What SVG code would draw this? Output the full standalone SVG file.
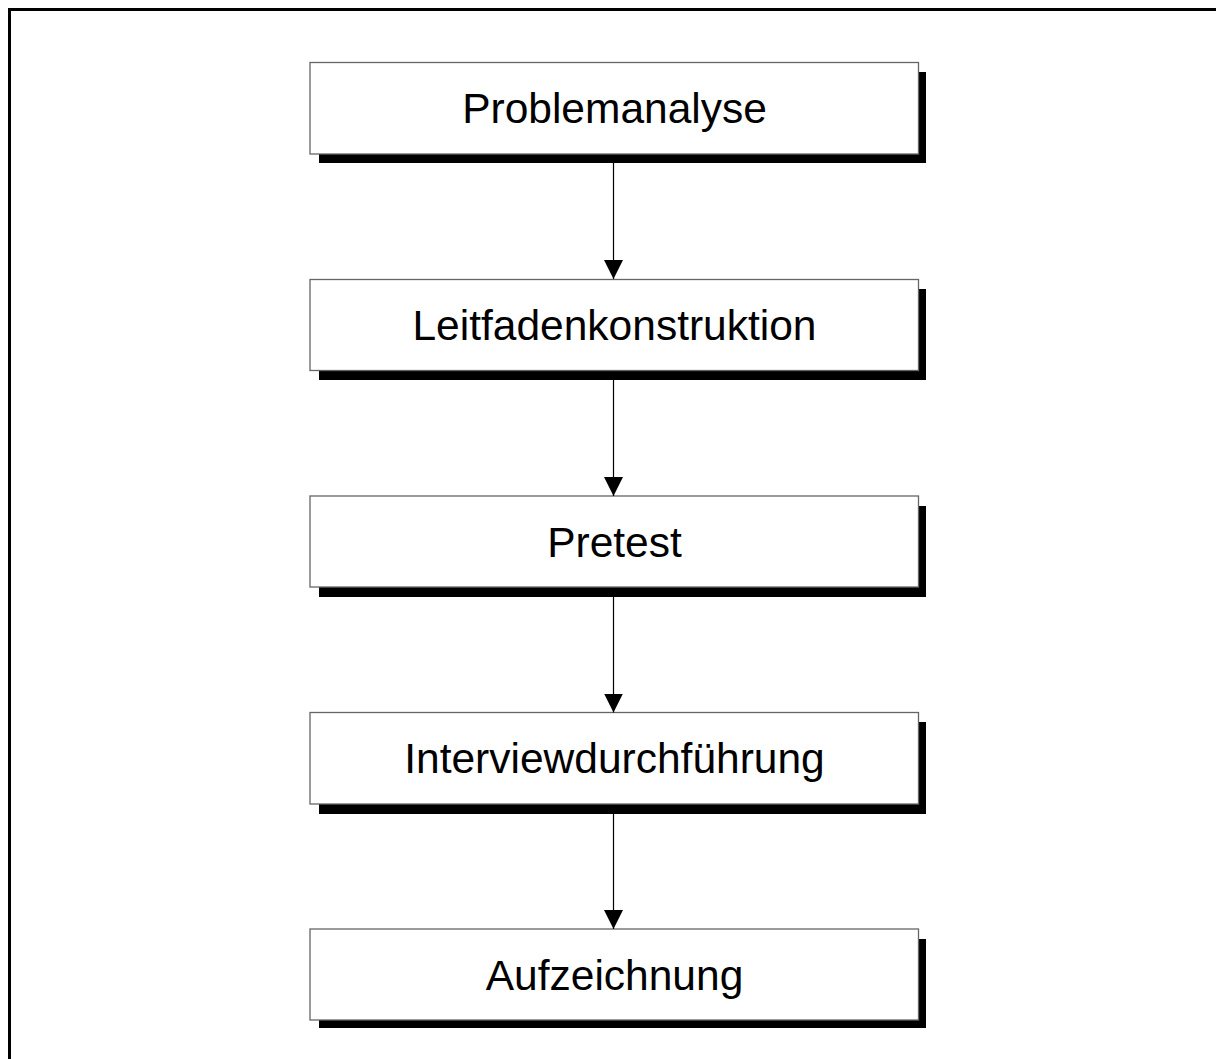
<svg xmlns="http://www.w3.org/2000/svg" width="1216" height="1059" viewBox="0 0 1216 1059">
<defs>
<style>
.shadow{fill:#000}
.box{fill:#fff;stroke:#666;stroke-width:1.3}
.lbl{font-family:"Liberation Sans",Arial,sans-serif;font-size:42.5px;fill:#000;text-anchor:middle}
.edge{stroke:#000;stroke-width:1.2;fill:none}
</style>
<marker id="ah" markerWidth="19" markerHeight="19" refX="19" refY="9.5" orient="auto" markerUnits="userSpaceOnUse">
<path d="M0,0 L19,9.5 L0,19 Z" fill="#000"/>
</marker>
</defs>
<rect width="1216" height="1059" fill="#fff"/>
<path d="M9.5,1059 V9.5 H1216" fill="none" stroke="#000" stroke-width="3"/>
<g id="n1">
<rect class="shadow" x="319" y="72" width="607" height="91"/>
<rect class="box" x="310" y="62.5" width="608.5" height="91.5"/>
<text class="lbl" x="614.5" y="122.5">Problemanalyse</text>
</g>
<g id="n2">
<rect class="shadow" x="319" y="289" width="607" height="91"/>
<rect class="box" x="310" y="279.5" width="608.5" height="91"/>
<text class="lbl" x="614.5" y="339.5">Leitfadenkonstruktion</text>
</g>
<g id="n3">
<rect class="shadow" x="319" y="506" width="607" height="91"/>
<rect class="box" x="310" y="496" width="608.5" height="91"/>
<text class="lbl" x="614.5" y="556.5">Pretest</text>
</g>
<g id="n4">
<rect class="shadow" x="319" y="722" width="607" height="92"/>
<rect class="box" x="310" y="712.5" width="608.5" height="91.5"/>
<text class="lbl" x="614.5" y="772.5">Interviewdurchführung</text>
</g>
<g id="n5">
<rect class="shadow" x="319" y="939" width="607" height="89"/>
<rect class="box" x="310" y="929" width="608.5" height="91"/>
<text class="lbl" x="614.5" y="989.5">Aufzeichnung</text>
</g>
<g id="edges">
<line class="edge" x1="613.5" y1="163" x2="613.5" y2="279" marker-end="url(#ah)"/>
<line class="edge" x1="613.5" y1="380" x2="613.5" y2="496" marker-end="url(#ah)"/>
<line class="edge" x1="613.5" y1="597" x2="613.5" y2="712.5" marker-end="url(#ah)"/>
<line class="edge" x1="613.5" y1="814" x2="613.5" y2="929" marker-end="url(#ah)"/>
</g>
</svg>
